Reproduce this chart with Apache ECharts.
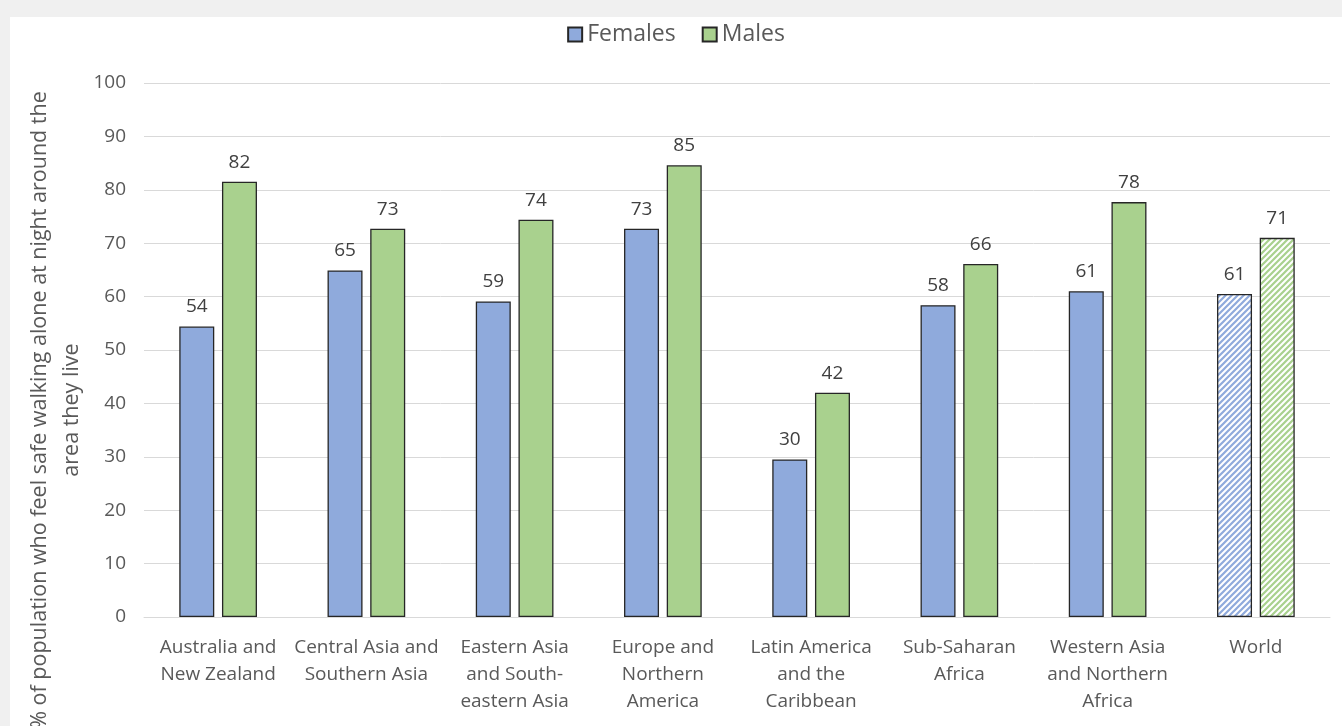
<!DOCTYPE html>
<html>
<head>
<meta charset="utf-8">
<script src="https://cdn.jsdelivr.net/npm/echarts@6/dist/echarts.min.js"></script>
<style>
  html, body { margin: 0; padding: 0; background: #f0f0f0; width: 1342px; height: 726px; overflow: hidden; }
  #chart { position: absolute; left: 10px; top: 17px; width: 1332px; height: 709px; background: #ffffff; }
</style>
</head>
<body>
<div id="chart"></div>
<script>
const categories = [
  'Australia and\nNew Zealand',
  'Central Asia and\nSouthern Asia',
  'Eastern Asia\nand South-\neastern Asia',
  'Europe and\nNorthern\nAmerica',
  'Latin America\nand the\nCaribbean',
  'Sub-Saharan\nAfrica',
  'Western Asia\nand Northern\nAfrica',
  'World'
];
const females = [54.4, 64.9, 59.1, 72.7, 29.5, 58.4, 61.0, 60.5];
const males = [81.5, 72.7, 74.4, 84.6, 42.0, 66.1, 77.7, 71.0];
const yTicks = [0, 10, 20, 30, 40, 50, 60, 70, 80, 90, 100];
const yTitle = '% of population who feel safe walking alone at night around the\narea they live';

const FONT = '"Open Sans", "Noto Sans", sans-serif';
const BLUE = '#8faadc';
const GREEN = '#a9d18e';

function hatch(color) {
  const s = 6;
  const c = document.createElement('canvas');
  c.width = s; c.height = s;
  const g = c.getContext('2d');
  g.fillStyle = '#ffffff';
  g.fillRect(0, 0, s, s);
  g.strokeStyle = color;
  g.lineWidth = 2.2;
  g.beginPath();
  g.moveTo(-s, s); g.lineTo(s, -s);
  g.moveTo(0, 2 * s); g.lineTo(2 * s, 0);
  g.moveTo(-s, 2 * s); g.lineTo(2 * s, -s);
  g.stroke();
  return { image: c, repeat: 'repeat' };
}

function buildData(vals, color) {
  return vals.map((v, i) => {
    if (categories[i] === 'World') {
      return { value: v, itemStyle: { color: hatch(color) } };
    }
    return v;
  });
}

const chart = echarts.init(document.getElementById('chart'), null, { renderer: 'canvas' });
chart.setOption({
  animation: false,
  textStyle: { fontFamily: FONT },
  legend: {
    top: 1,
    left: 'center',
    itemWidth: 14,
    itemHeight: 14,
    itemGap: 26,
    icon: 'rect',
    textStyle: { fontSize: 23, color: '#595959', fontFamily: FONT },
    data: ['Females', 'Males']
  },
  grid: { left: 134, right: 12, top: 66, bottom: 109 },
  xAxis: {
    type: 'category',
    data: categories,
    axisLine: { lineStyle: { color: '#d9d9d9', width: 1 } },
    axisTick: { show: false },
    axisLabel: {
      interval: 0,
      color: '#595959',
      fontSize: 19,
      lineHeight: 27,
      margin: 17,
      fontFamily: FONT
    }
  },
  yAxis: {
    type: 'value',
    min: 0,
    max: 100,
    interval: 10,
    axisLine: { show: false },
    axisTick: { show: false },
    splitLine: { lineStyle: { color: '#d9d9d9', width: 1 } },
    axisLabel: {
      color: '#595959',
      fontSize: 19,
      margin: 18,
      fontFamily: FONT,
      formatter: v => yTicks.includes(v) ? String(v) : ''
    }
  },
  graphic: [{
    type: 'text',
    x: 46,
    y: 393,
    rotation: Math.PI / 2,
    silent: true,
    style: {
      text: yTitle,
      fill: '#595959',
      font: '21.5px ' + FONT,
      align: 'center',
      verticalAlign: 'middle',
      lineHeight: 32
    }
  }],
  series: [
    {
      name: 'Females',
      type: 'bar',
      data: buildData(females, BLUE),
      barWidth: 35,
      barGap: '22%',
      itemStyle: { color: BLUE, borderColor: '#262626', borderWidth: 1.3 },
      label: {
        show: true,
        position: 'top',
        distance: 10,
        color: '#404040',
        fontSize: 19,
        fontFamily: FONT,
        formatter: p => String(Math.round(p.value))
      }
    },
    {
      name: 'Males',
      type: 'bar',
      data: buildData(males, GREEN),
      barWidth: 35,
      itemStyle: { color: GREEN, borderColor: '#262626', borderWidth: 1.3 },
      label: {
        show: true,
        position: 'top',
        distance: 10,
        color: '#404040',
        fontSize: 19,
        fontFamily: FONT,
        formatter: p => String(Math.round(p.value))
      }
    }
  ]
});
</script>
</body>
</html>
